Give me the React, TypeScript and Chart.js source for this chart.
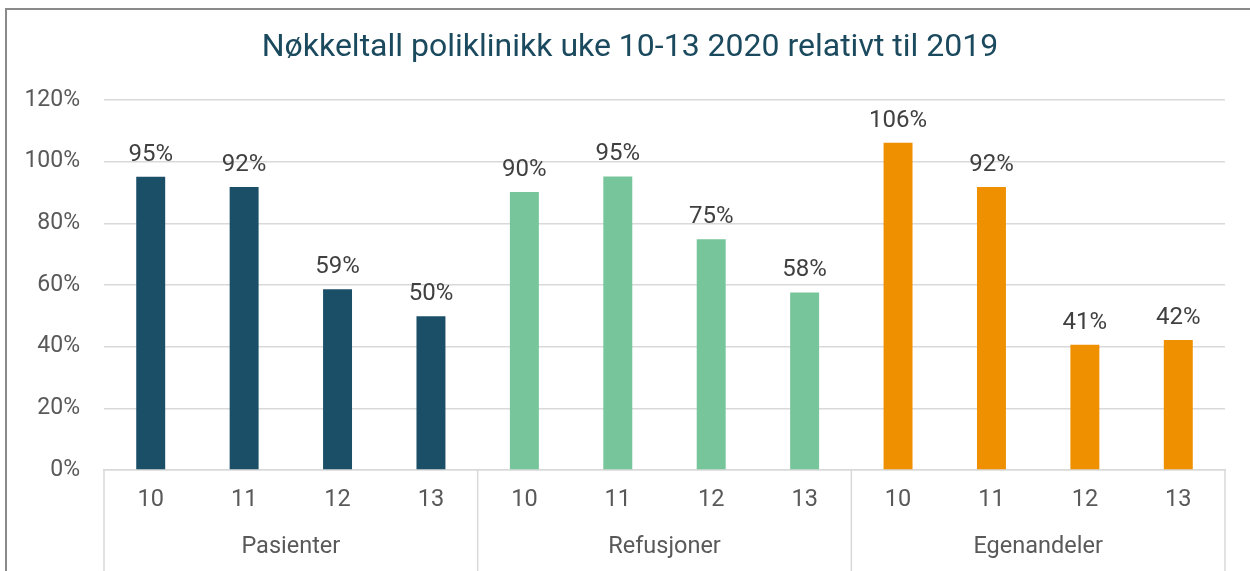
import React, { useEffect, useRef } from "react";
import { Chart, registerables } from "chart.js";

Chart.register(...registerables);

const TITLE = "Nøkkeltall poliklinikk uke 10-13 2020 relativt til 2019";
const weeks = ["10", "11", "12", "13"];
const groups = ["Pasienter", "Refusjoner", "Egenandeler"];
const pasienter = [95.1, 91.8, 58.6, 49.9];
const refusjoner = [90.2, 95.2, 74.8, 57.6];
const egenandeler = [106.1, 91.8, 40.6, 42.2];
const groupColors = ["#1b4f68", "#76c59b", "#ee9000"];
const yTicks = [0, 20, 40, 60, 80, 100, 120];

const FONT = "Roboto";

export default function App() {
  const ref = useRef<HTMLCanvasElement | null>(null);

  useEffect(() => {
    document.body.style.margin = "0";
    const series = [pasienter, refusjoner, egenandeler];
    const labels: string[] = [];
    const values: number[] = [];
    const colors: string[] = [];
    series.forEach((s, gi) => {
      s.forEach((v, i) => {
        labels.push(weeks[i]);
        values.push(v);
        colors.push(groupColors[gi]);
      });
    });

    const decor = {
      id: "decor",
      beforeDraw(chart: any) {
        const ctx = chart.ctx;
        ctx.save();
        ctx.fillStyle = "#ffffff";
        ctx.fillRect(0, 0, chart.width, chart.height);
        ctx.strokeStyle = "#8a8a8a";
        ctx.lineWidth = 2;
        ctx.strokeRect(6, 9, chart.width + 20, chart.height + 20);
        ctx.fillStyle = "#1b4a5e";
        ctx.font = `32px ${FONT}`;
        ctx.textAlign = "center";
        ctx.textBaseline = "middle";
        ctx.fillText(TITLE, chart.width / 2 + 5, 48);
        ctx.restore();
      },
      afterDatasetsDraw(chart: any) {
        const ctx = chart.ctx;
        const meta = chart.getDatasetMeta(0);
        ctx.save();
        ctx.fillStyle = "#404040";
        ctx.font = `24px ${FONT}`;
        ctx.textAlign = "center";
        ctx.textBaseline = "alphabetic";
        meta.data.forEach((bar: any, i: number) => {
          ctx.fillText(`${Math.round(values[i])}%`, bar.x, bar.y - 16);
        });
        // group separators and labels
        const xs = chart.scales.x;
        const top = chart.chartArea.bottom;
        ctx.strokeStyle = "#d9d9d9";
        ctx.lineWidth = 1.5;
        const n = weeks.length;
        for (let g = 0; g <= groups.length; g++) {
          const x = xs.getPixelForValue(g * n - 0.5);
          ctx.beginPath();
          ctx.moveTo(x, top);
          ctx.lineTo(x, chart.height);
          ctx.stroke();
        }
        ctx.fillStyle = "#595959";
        ctx.font = `23.5px ${FONT}`;
        ctx.textBaseline = "middle";
        groups.forEach((gname, g) => {
          const x = xs.getPixelForValue(g * n + (n - 1) / 2);
          ctx.fillText(gname, x, 547);
        });
        ctx.restore();
      },
    };

    const chart = new Chart(ref.current as HTMLCanvasElement, {
      type: "bar",
      data: {
        labels,
        datasets: [
          {
            data: values,
            backgroundColor: colors,
            borderWidth: 0,
            categoryPercentage: 1,
            barPercentage: 0.31,
          },
        ],
      },
      options: {
        animation: false,
        responsive: false,
        maintainAspectRatio: false,
        layout: { padding: { top: 100, right: 25, left: 0, bottom: 0 } },
        plugins: {
          legend: { display: false },
          title: { display: false },
          tooltip: { enabled: false },
        },
        scales: {
          x: {
            grid: { display: false, drawTicks: false },
            border: { display: true, color: "#d9d9d9", width: 1.5 },
            ticks: {
              color: "#595959",
              font: { family: FONT, size: 23.5 },
              padding: 16,
              maxRotation: 0,
              autoSkip: false,
            },
            afterFit(scale: any) {
              scale.height = 101;
            },
          },
          y: {
            min: 0,
            max: 120,
            afterBuildTicks(scale: any) {
              scale.ticks = yTicks.map((v) => ({ value: v }));
            },
            grid: { color: "#d9d9d9", lineWidth: 1.5, drawTicks: false },
            border: { display: false },
            ticks: {
              color: "#595959",
              font: { family: FONT, size: 23 },
              padding: 24,
              callback: (v: any) => `${v}%`,
            },
            afterFit(scale: any) {
              scale.width = 104;
            },
          },
        },
      },
      plugins: [decor],
    });
    return () => chart.destroy();
  }, []);

  return (
    <div style={{ width: 1250, height: 571 }}>
      <canvas ref={ref} width={1250} height={571} style={{ display: "block" }} />
    </div>
  );
}
